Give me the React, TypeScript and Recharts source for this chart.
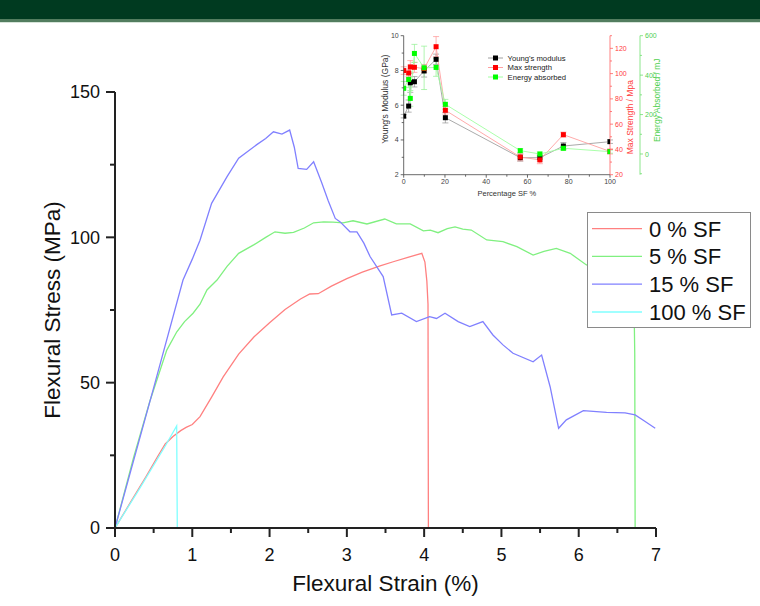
import React from 'react';
import { LineChart, Line, XAxis, YAxis, Legend, ErrorBar } from 'recharts';

// ---------------- Main chart data ----------------
const seriesNames = ['0 % SF', '5 % SF', '15 % SF', '100 % SF'];
const seriesColors = ['#ff8080', '#80f080', '#8080ff', '#80ffff'];

const strain0 = [0, 0.2, 0.4, 0.55, 0.65, 0.75, 0.85, 0.92, 1.0, 1.1, 1.25, 1.4, 1.6, 1.8, 2.0, 2.2, 2.4, 2.52, 2.63, 2.8, 3.0, 3.2, 3.43, 3.6, 3.8, 3.97, 4.01, 4.035, 4.05, 4.055];
const stress0 = [0, 8.8, 17.6, 24.5, 28.9, 31.5, 33.5, 34.6, 35.6, 38.3, 45, 52, 59.8, 65.8, 70.6, 75.2, 78.8, 80.5, 80.6, 83.2, 85.8, 88, 90.2, 91.6, 93.2, 94.5, 91.5, 85, 77, 0];

const strain5 = [0, 0.24, 0.45, 0.67, 0.8, 0.9, 1.01, 1.1, 1.19, 1.32, 1.45, 1.6, 1.8, 1.95, 2.07, 2.2, 2.31, 2.45, 2.57, 2.7, 2.82, 2.95, 3.08, 3.26, 3.49, 3.64, 3.82, 3.99, 4.08, 4.18, 4.3, 4.4, 4.5, 4.61, 4.81, 5.02, 5.2, 5.41, 5.55, 5.71, 5.89, 6.1, 6.3, 6.5, 6.71, 6.725, 6.73];
const stress5 = [0, 24.2, 43.5, 61.2, 67.5, 71, 73.9, 77, 81.9, 85.3, 90, 94.5, 97.5, 100, 101.9, 101.4, 101.7, 103.2, 105, 105.3, 105.2, 105, 105.7, 104.6, 106.3, 104.6, 104.6, 102.2, 102.5, 101.6, 103, 103.6, 102.8, 102.5, 99.1, 98.5, 96.8, 93.9, 95.2, 96.2, 94.5, 90.5, 89.5, 89.2, 88, 60, 0];

const strain15 = [0, 0.5, 0.88, 1.0, 1.1, 1.25, 1.45, 1.6, 1.83, 1.95, 2.05, 2.16, 2.26, 2.32, 2.37, 2.48, 2.57, 2.67, 2.76, 2.85, 2.91, 3.04, 3.13, 3.22, 3.3, 3.47, 3.58, 3.71, 3.9, 4.07, 4.16, 4.27, 4.44, 4.59, 4.76, 4.89, 5.02, 5.15, 5.41, 5.52, 5.63, 5.74, 5.84, 6.06, 6.36, 6.6, 6.73, 6.85, 6.99];
const stress15 = [0, 48.2, 85.3, 92.5, 99, 111.7, 120.9, 127.2, 131.8, 134, 136.3, 135.5, 136.9, 131, 123.7, 123.4, 126, 119.1, 112.5, 106.5, 105.4, 101.9, 101.9, 98, 93.4, 86.5, 73.3, 73.9, 71, 72.7, 72.1, 73.9, 71, 69.3, 71, 66.4, 63, 60.1, 57.2, 59.5, 48.6, 34.3, 37.2, 40.4, 39.8, 39.6, 38.9, 36.8, 34.3];

const strain100 = [0, 0.3, 0.65, 0.798, 0.806];
const stress100 = [0, 12.8, 28.2, 35.1, 0];

const xTicks = [0, 0.5, 1, 1.5, 2, 2.5, 3, 3.5, 4, 4.5, 5, 5.5, 6, 6.5, 7];
const yTicks = [0, 25, 50, 75, 100, 125, 150];

// ---------------- Inset data ----------------
const sfPercent = [0, 2.4, 3.2, 5.2, 9.9, 15.7, 20.2, 56.5, 66, 77.4, 100];
const youngsModulus = [5.37, 5.95, 7.29, 7.35, 7.97, 8.64, 5.28, 2.98, 2.98, 3.65, 3.9];
const youngsErr = [0.1, 0.35, 0.55, 0.3, 0.35, 0.3, 0.3, 0.2, 0.2, 0.2, 0.1];
const maxStrength = [102.4, 100.5, 105.3, 105, 104, 121.3, 71, 34, 31.7, 51.7, 38.4];
const maxStrengthErr = [3, 3, 5, 4, 3, 8, 3, 3, 3, 2, 2];
const energyAbsorbed = [333, 378, 282, 510, 437, 439, 252, 17, 0, 29, 12];
const energyErr = [35, 40, 40, 46, 110, 45, 25, 10, 10, 10, 8];
const insetNames = ["Young's modulus", 'Max strength', 'Energy absorbed'];
const insetMarkerColors = ['#000000', '#ff0000', '#00ff00'];
const insetLineColors = ['#a0a0a0', '#ffa0a0', '#a0ffa0'];

const insetXTicks = [0, 10, 20, 30, 40, 50, 60, 70, 80, 90, 100];
const ymTicks = [2, 3, 4, 5, 6, 7, 8, 9, 10];
const msTicks = [20, 30, 40, 50, 60, 70, 80, 90, 100, 110, 120, 130];
const eaTicks = [-100, 0, 100, 200, 300, 400, 500, 600];

const FONT = '"Liberation Sans", Arial, Helvetica, sans-serif';

const zip = (xs: number[], ys: number[]) => xs.map((x, i) => ({ x, y: ys[i] }));
const mainSeries = [zip(strain0, stress0), zip(strain5, stress5), zip(strain15, stress15), zip(strain100, stress100)];

const insetData = sfPercent.map((sf, i) => ({
  sf,
  ym: youngsModulus[i],
  ymErr: youngsErr[i],
  ms: maxStrength[i],
  msErr: maxStrengthErr[i],
  ea: energyAbsorbed[i],
  eaErr: energyErr[i],
}));

type TickOpts = {
  orient: 'left' | 'bottom' | 'right';
  major: (v: number) => boolean;
  majorLen: number;
  minorLen: number;
  gap: number;
  fontSize: number;
  color: string;
  lineColor: string;
  lineWidth: number;
  hide?: (v: number) => boolean;
};

const makeTick = (o: TickOpts) => (props: any) => {
  const { x, y, payload } = props;
  const v = payload.value as number;
  const isMajor = o.major(v);
  const len = isMajor ? o.majorLen : o.minorLen;
  const showLabel = isMajor && !(o.hide && o.hide(v));
  const label = String(v);
  if (o.orient === 'left') {
    return (
      <g>
        <line x1={x - len} x2={x} y1={y} y2={y} stroke={o.lineColor} strokeWidth={o.lineWidth} />
        {showLabel && (
          <text x={x - len - o.gap} y={y} dy="0.36em" textAnchor="end" fontSize={o.fontSize} fill={o.color} fontFamily={FONT}>
            {label}
          </text>
        )}
      </g>
    );
  }
  if (o.orient === 'right') {
    return (
      <g>
        <line x1={x} x2={x + len} y1={y} y2={y} stroke={o.lineColor} strokeWidth={o.lineWidth} />
        {showLabel && (
          <text x={x + len + o.gap} y={y} dy="0.36em" textAnchor="start" fontSize={o.fontSize} fill={o.color} fontFamily={FONT}>
            {label}
          </text>
        )}
      </g>
    );
  }
  return (
    <g>
      <line x1={x} x2={x} y1={y} y2={y + len} stroke={o.lineColor} strokeWidth={o.lineWidth} />
      {showLabel && (
        <text x={x} y={y + o.gap} textAnchor="middle" fontSize={o.fontSize} fill={o.color} fontFamily={FONT}>
          {label}
        </text>
      )}
    </g>
  );
};

const mainXTick = makeTick({ orient: 'bottom', major: (v) => Number.isInteger(v), majorLen: 9, minorLen: 5, gap: 33, fontSize: 18, color: '#111', lineColor: '#222', lineWidth: 2 });
const mainYTick = makeTick({ orient: 'left', major: (v) => v % 50 === 0, majorLen: 9, minorLen: 5, gap: 6, fontSize: 18, color: '#111', lineColor: '#222', lineWidth: 2 });

const insetXTick = makeTick({ orient: 'bottom', major: (v) => v % 20 === 0, majorLen: 3, minorLen: 2, gap: 9, fontSize: 7, color: '#444', lineColor: '#444', lineWidth: 0.8 });
const ymTick = makeTick({ orient: 'left', major: (v) => v % 2 === 0, majorLen: 3, minorLen: 2, gap: 2, fontSize: 7, color: '#444', lineColor: '#444', lineWidth: 0.8 });
const msTick = makeTick({ orient: 'right', major: (v) => v % 20 === 0, majorLen: 3, minorLen: 2, gap: 2, fontSize: 7, color: '#ff4040', lineColor: '#ff6060', lineWidth: 0.8 });
const eaTick = makeTick({ orient: 'right', major: (v) => v % 200 === 0, majorLen: 3, minorLen: 2, gap: 2, fontSize: 7, color: '#50d050', lineColor: '#70e070', lineWidth: 0.8, hide: (v) => v < 0 });

const squareDot = (fill: string) => (props: any) => {
  const { cx, cy, index } = props;
  if (cx == null || cy == null) return <g key={index} />;
  return <rect key={index} x={cx - 2.5} y={cy - 2.5} width={5} height={5} fill={fill} />;
};

const MainLegend = () => (
  <svg width={162} height={114} style={{ display: 'block' }}>
    {seriesNames.map((n, i) => {
      const cy = 15.6 + i * 27.8;
      return (
        <g key={n}>
          <line x1={4} x2={54} y1={cy} y2={cy} stroke={seriesColors[i]} strokeWidth={1.3} />
          <text x={61} y={cy} dy="0.36em" fontSize={22} fill="#111" fontFamily={FONT}>
            {n}
          </text>
        </g>
      );
    })}
  </svg>
);

const InsetLegend = () => (
  <svg width={90} height={30} style={{ display: 'block' }}>
    {insetNames.map((n, i) => {
      const cy = 5 + i * 9.5;
      return (
        <g key={n}>
          <line x1={0} x2={15} y1={cy} y2={cy} stroke={insetLineColors[i]} strokeWidth={1} />
          <rect x={5} y={cy - 2.5} width={5} height={5} fill={insetMarkerColors[i]} />
          <text x={19.5} y={cy} dy="0.36em" fontSize={7.7} fill="#222" fontFamily={FONT}>
            {n}
          </text>
        </g>
      );
    })}
  </svg>
);

export default function App() {
  return (
    <div style={{ position: 'absolute', left: 0, top: 0, width: 760, height: 606, background: '#fff', overflow: 'hidden', fontFamily: FONT }}>
      <div style={{ position: 'absolute', left: 0, top: 0, width: 760, height: 19, background: '#003a20' }} />
      <div style={{ position: 'absolute', left: 0, top: 19, width: 760, height: 3, background: '#527d5f' }} />
      <div style={{ position: 'absolute', left: 0, top: 22, width: 760, height: 1, background: '#d6e4d9' }} />

      <div style={{ position: 'absolute', left: 0, top: 0 }}>
        <LineChart width={760} height={606} margin={{ top: 92, right: 104, left: 0, bottom: 0 }}>
          <XAxis
            type="number"
            dataKey="x"
            domain={[0, 7]}
            ticks={xTicks}
            interval={0}
            allowDataOverflow
            height={78}
            tickSize={0}
            tickMargin={0}
            tickLine={false}
            tick={mainXTick}
            axisLine={{ stroke: '#222', strokeWidth: 2 }}
            label={(p: any) => {
              const vb = p.viewBox;
              return (
                <text x={vb.x + vb.width / 2} y={vb.y + 63} textAnchor="middle" fontSize={22.5} fill="#111" fontFamily={FONT}>
                  Flexural Strain (%)
                </text>
              );
            }}
          />
          <YAxis
            type="number"
            domain={[0, 150]}
            ticks={yTicks}
            interval={0}
            allowDataOverflow
            width={115}
            tickSize={0}
            tickMargin={0}
            tickLine={false}
            tick={mainYTick}
            axisLine={{ stroke: '#222', strokeWidth: 2 }}
            label={(p: any) => {
              const vb = p.viewBox;
              const cx = 60;
              const cy = vb.y + vb.height / 2;
              return (
                <text x={cx} y={cy} textAnchor="middle" fontSize={22.5} fill="#111" fontFamily={FONT} transform={`rotate(-90, ${cx}, ${cy})`}>
                  Flexural Stress (MPa)
                </text>
              );
            }}
          />
          {mainSeries.map((d, i) => (
            <Line
              key={seriesNames[i]}
              data={d}
              dataKey="y"
              name={seriesNames[i]}
              type="linear"
              stroke={seriesColors[i]}
              strokeWidth={1.3}
              dot={false}
              activeDot={false}
              isAnimationActive={false}
            />
          ))}
          <Legend
            layout="horizontal"
            verticalAlign="middle"
            align="center"
            content={() => <MainLegend />}
            wrapperStyle={{ position: 'absolute', left: 587, top: 212, width: 164, height: 116, border: '1px solid #8a8a8a', background: '#fff', boxSizing: 'border-box' }}
          />
        </LineChart>
      </div>

      <div style={{ position: 'absolute', left: 340, top: 20 }}>
        <LineChart width={330} height={200} data={insetData} margin={{ top: 15.7, right: 0, left: 0, bottom: 0 }}>
          <XAxis
            type="number"
            dataKey="sf"
            domain={[0, 100]}
            ticks={insetXTicks}
            interval={0}
            allowDataOverflow
            height={45.3}
            tickSize={0}
            tickMargin={0}
            tickLine={false}
            tick={insetXTick}
            axisLine={{ stroke: '#444', strokeWidth: 0.8 }}
            label={(p: any) => {
              const vb = p.viewBox;
              return (
                <text x={vb.x + vb.width / 2} y={vb.y + 21} textAnchor="middle" fontSize={7.5} fill="#333" fontFamily={FONT}>
                  Percentage SF %
                </text>
              );
            }}
          />
          <YAxis
            yAxisId="l1"
            orientation="left"
            type="number"
            domain={[2, 10]}
            ticks={ymTicks}
            interval={0}
            allowDataOverflow
            width={63.7}
            tickSize={0}
            tickMargin={0}
            tickLine={false}
            tick={ymTick}
            axisLine={{ stroke: '#444', strokeWidth: 0.8 }}
            label={(p: any) => {
              const vb = p.viewBox;
              const cx = vb.x + 48;
              const cy = vb.y + vb.height / 2 - 6;
              return (
                <text x={cx} y={cy} textAnchor="middle" fontSize={8.5} fill="#333" fontFamily={FONT} transform={`rotate(-90, ${cx}, ${cy})`}>
                  Young's Modulus (GPa)
                </text>
              );
            }}
          />
          <YAxis
            yAxisId="r1"
            orientation="right"
            type="number"
            domain={[20, 130]}
            ticks={msTicks}
            interval={0}
            allowDataOverflow
            width={30}
            tickSize={0}
            tickMargin={0}
            tickLine={false}
            tick={msTick}
            axisLine={{ stroke: '#ff6060', strokeWidth: 0.8 }}
            label={(p: any) => {
              const vb = p.viewBox;
              const cx = vb.x + 23;
              const cy = vb.y + vb.height / 2 + 12;
              return (
                <text x={cx} y={cy} textAnchor="middle" fontSize={8.5} fill="#ff4040" fontFamily={FONT} transform={`rotate(-90, ${cx}, ${cy})`}>
                  Max Strength / Mpa
                </text>
              );
            }}
          />
          <YAxis
            yAxisId="r2"
            orientation="right"
            type="number"
            domain={[-105, 600]}
            ticks={eaTicks}
            interval={0}
            allowDataOverflow
            width={30}
            tickSize={0}
            tickMargin={0}
            tickLine={false}
            tick={eaTick}
            axisLine={{ stroke: '#70e070', strokeWidth: 0.8 }}
            label={(p: any) => {
              const vb = p.viewBox;
              const cx = vb.x + 20;
              const cy = vb.y + vb.height / 2 - 5;
              return (
                <text x={cx} y={cy} textAnchor="middle" fontSize={8.5} fill="#50d050" fontFamily={FONT} transform={`rotate(-90, ${cx}, ${cy})`}>
                  Energy Absorbed / mJ
                </text>
              );
            }}
          />
          <Line yAxisId="l1" dataKey="ym" name={insetNames[0]} type="linear" stroke={insetLineColors[0]} strokeWidth={0.9} dot={squareDot(insetMarkerColors[0])} activeDot={false} isAnimationActive={false}>
            <ErrorBar dataKey="ymErr" direction="y" width={3} stroke="#909090" strokeWidth={0.7} />
          </Line>
          <Line yAxisId="r1" dataKey="ms" name={insetNames[1]} type="linear" stroke={insetLineColors[1]} strokeWidth={0.9} dot={squareDot(insetMarkerColors[1])} activeDot={false} isAnimationActive={false}>
            <ErrorBar dataKey="msErr" direction="y" width={3} stroke="#ff9090" strokeWidth={0.7} />
          </Line>
          <Line yAxisId="r2" dataKey="ea" name={insetNames[2]} type="linear" stroke={insetLineColors[2]} strokeWidth={0.9} dot={squareDot(insetMarkerColors[2])} activeDot={false} isAnimationActive={false}>
            <ErrorBar dataKey="eaErr" direction="y" width={3} stroke="#90f090" strokeWidth={0.7} />
          </Line>
          <Legend
            layout="horizontal"
            verticalAlign="middle"
            align="center"
            content={() => <InsetLegend />}
            wrapperStyle={{ position: 'absolute', left: 148, top: 33.3, width: 90, height: 30 }}
          />
        </LineChart>
      </div>
    </div>
  );
}
